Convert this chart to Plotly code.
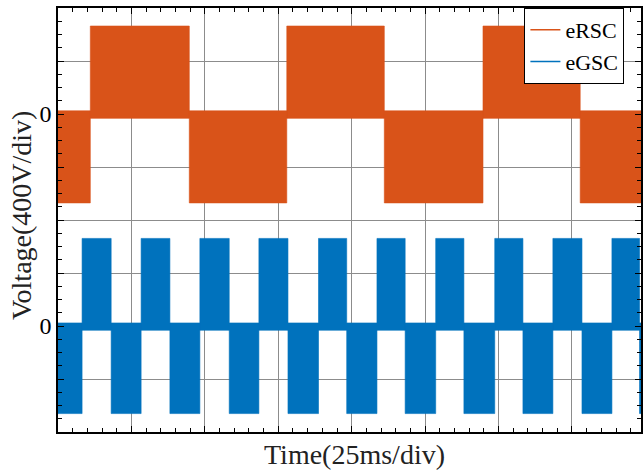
import plotly.graph_objects as go

# ---------------- data ----------------
# time in ms (25 ms/div), voltages in V (400 V/div)
ersc_edges_ms = [0, 11.0, 44.7, 77.9, 111.1, 144.7, 177.8, 198.5]
ersc_states = ["low", "high", "low", "high", "low", "high", "low"]
ersc_bands = {"high": (-33, 664), "low": (-671, 24)}   # noisy PWM envelope (min, max)
ersc_offset_v = 1600                                   # trace shifted up 4 div

egsc_edges_ms = [0, 8.2, 18.1, 28.3, 38.1, 48.3, 58.3, 68.4, 78.3, 88.7, 98.3,
                 108.6, 118.2, 128.6, 138.2, 148.7, 158.3, 168.5, 178.4, 188.6,
                 198.0, 198.5]
egsc_states = ["low", "high"] * 10 + ["low"]
egsc_bands = {"high": (-32, 661), "low": (-661, 23)}
egsc_offset_v = 0

y_tick_vals = [-800, -400, 0, 400, 800, 1200, 1600, 2000, 2400]
y_tick_text = ["", "", "0", "", "", "", "0", "", ""]

ORANGE = "#D95319"
BLUE = "#0072BD"
FONT = "Liberation Serif"


def envelope(edges, states, bands, offset):
    xs, ys = [], []
    for i, st in enumerate(states):
        t0, t1 = edges[i], edges[i + 1]
        lo, hi = bands[st]
        lo += offset
        hi += offset
        xs += [t0, t1, t1, t0, t0, None]
        ys += [lo, lo, hi, hi, lo, None]
    return xs, ys


fig = go.Figure()

for name, edges, states, bands, off, col in [
    ("eRSC", ersc_edges_ms, ersc_states, ersc_bands, ersc_offset_v, ORANGE),
    ("eGSC", egsc_edges_ms, egsc_states, egsc_bands, egsc_offset_v, BLUE),
]:
    xs, ys = envelope(edges, states, bands, off)
    fig.add_trace(go.Scatter(x=xs, y=ys, mode="lines", fill="toself",
                             fillcolor=col, line=dict(color=col, width=0.6),
                             showlegend=False, hoverinfo="skip"))

# legend entries (line symbols)
fig.add_trace(go.Scatter(x=[None], y=[None], mode="lines", name="eRSC",
                         line=dict(color=ORANGE, width=1.5)))
fig.add_trace(go.Scatter(x=[None], y=[None], mode="lines", name="eGSC",
                         line=dict(color=BLUE, width=1.5)))

x_max = 198.5

fig.update_layout(
    width=643, height=472,
    margin=dict(l=58, r=0, t=8, b=40),
    paper_bgcolor="white", plot_bgcolor="white",
    font=dict(family=FONT, size=23, color="black"),
    showlegend=True,
    legend=dict(x=0.80, xanchor="left", y=1, yanchor="top",
                bgcolor="white", bordercolor="black", borderwidth=1,
                font=dict(family=FONT, size=22, color="black"),
                itemwidth=30, tracegroupgap=0, entrywidth=75),
    xaxis=dict(range=[0, x_max], tick0=0, dtick=25, showticklabels=False,
               ticks="inside", ticklen=6, tickcolor="black", tickwidth=1,
               showline=True, linecolor="black", linewidth=1.5, mirror="ticks",
               showgrid=True, gridcolor="#8c8c8c", gridwidth=1, zeroline=False,
               minor=dict(tick0=0, dtick=5, ticks="inside", ticklen=4,
                          tickcolor="black", showgrid=False)),
    yaxis=dict(range=[-800, 2400], tickmode="array", tickvals=y_tick_vals,
               ticktext=y_tick_text, tickfont=dict(family=FONT, size=24),
               ticks="inside", ticklen=6, tickcolor="black", tickwidth=1,
               showline=True, linecolor="black", linewidth=1.5, mirror="ticks",
               showgrid=True, gridcolor="#8c8c8c", gridwidth=1, zeroline=False,
               minor=dict(tickmode="linear", tick0=-800, dtick=100,
                          ticks="inside", ticklen=4, tickcolor="black",
                          showgrid=False)),
    annotations=[
        dict(text="Time(25ms/div)", xref="paper", yref="paper",
             x=0.509, y=-0.054, xanchor="center", yanchor="middle",
             showarrow=False, font=dict(family=FONT, size=28, color="#222")),
        dict(text="Voltage(400V/div)", xref="paper", yref="paper",
             x=-0.063, y=0.51, xanchor="center", yanchor="middle",
             textangle=-90, showarrow=False,
             font=dict(family=FONT, size=28, color="#222")),
    ],
)

fig.write_html("out.html")
